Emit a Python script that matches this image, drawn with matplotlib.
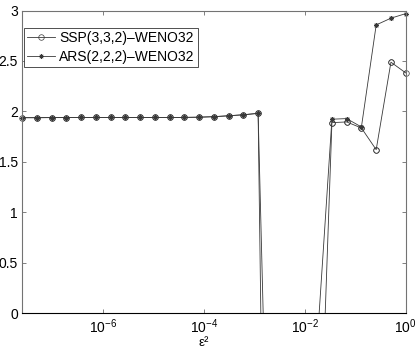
import matplotlib
matplotlib.use("Agg")
import matplotlib.pyplot as plt
from matplotlib.ticker import FixedLocator, NullLocator, FixedFormatter
from matplotlib.transforms import Bbox, TransformedBbox

plt.rcParams['font.family'] = ['Liberation Sans', 'DejaVu Sans']
plt.rcParams['mathtext.fontset'] = 'custom'
plt.rcParams['mathtext.rm'] = 'Liberation Sans'
plt.rcParams['mathtext.it'] = 'Liberation Sans:italic'
plt.rcParams['mathtext.bf'] = 'Liberation Sans:bold'

# epsilon^2 values (x axis)
eps2 = [2.439e-8, 4.786e-8, 9.393e-8, 1.843e-7, 3.617e-7, 7.099e-7, 1.393e-6,
        2.734e-6, 5.365e-6, 1.053e-5, 2.066e-5, 4.055e-5, 7.955e-5, 1.561e-4,
        3.064e-4, 6.013e-4, 1.180e-3, 2.316e-3, 4.545e-3, 8.920e-3, 1.750e-2,
        3.436e-2, 6.742e-2, 0.1323, 0.2597, 0.5095, 1.0]

ssp = [1.938, 1.938, 1.939, 1.939, 1.940, 1.941, 1.940, 1.940, 1.940, 1.940,
       1.940, 1.941, 1.943, 1.948, 1.957, 1.967, 1.981,
       -8.8, -7.5, -5.2, -2.27,
       1.889, 1.896, 1.836, 1.621, 2.488, 2.382]

ars = [1.938, 1.938, 1.939, 1.939, 1.940, 1.941, 1.940, 1.940, 1.940, 1.940,
       1.940, 1.941, 1.943, 1.948, 1.957, 1.967, 1.981,
       -3.8, -4.5, -3.6, -0.30,
       1.923, 1.929, 1.846, 2.857, 2.924, 2.969]

labels = ['SSP(3,3,2)–WENO32', 'ARS(2,2,2)–WENO32']
xticks = [1e-6, 1e-4, 1e-2, 1.0]
xticklabels = [r'$\mathdefault{10^{-6}}$', r'$\mathdefault{10^{-4}}$',
               r'$\mathdefault{10^{-2}}$', r'$\mathdefault{10^{0}}$']
yticks = [0, 0.5, 1, 1.5, 2, 2.5, 3]
yticklabels = ['0', '0.5', '1', '1.5', '2', '2.5', '3']

W, H = 419, 349
fig = plt.figure(figsize=(W / 100, H / 100), dpi=100)
ax = fig.add_axes([22 / W, 35.7 / H, 383.7 / W, 302.8 / H])

lc = '0.22'
asterisk = (8, 2, 0)
l1, = ax.plot(eps2, ssp, color=lc, lw=0.6, marker='o', ms=4.0, mfc='none',
              mec=lc, mew=0.5, label=labels[0])
l2, = ax.plot(eps2, ars, color=lc, lw=0.6, marker=asterisk, ms=3.4,
              mec=lc, mew=0.5, label=labels[1])

# markers again, not clipped at the axes edges (MATLAB style)
big = TransformedBbox(Bbox([[-0.03, -0.03], [1.03, 1.03]]), ax.transAxes)
m1, = ax.plot(eps2, ssp, ls='none', marker='o', ms=4.0, mfc='none', mec=lc, mew=0.5)
m2, = ax.plot(eps2, ars, ls='none', marker=asterisk, ms=3.4, mec=lc, mew=0.5)
m1.set_clip_box(big)
m2.set_clip_box(big)

ax.set_xscale('log')
ax.set_xlim(eps2[0], eps2[-1])
ax.set_ylim(0, 3)
ax.xaxis.set_major_locator(FixedLocator(xticks))
ax.xaxis.set_major_formatter(FixedFormatter(xticklabels))
ax.xaxis.set_minor_locator(NullLocator())
ax.set_yticks(yticks)
ax.set_yticklabels(yticklabels)

ax.tick_params(axis='both', which='both', direction='in', top=True, right=True,
               length=3, width=0.5, labelsize=10, color='0.3')
ax.tick_params(axis='x', pad=2.8)
ax.tick_params(axis='y', pad=3)
for s in ['left', 'top', 'right']:
    ax.spines[s].set_color('0.45')
    ax.spines[s].set_linewidth(0.8)
ax.spines['bottom'].set_color('k')
ax.spines['bottom'].set_linewidth(0.8)

fig.text(204 / W, 1 - 348.8 / H, 'ε²', ha='center', va='bottom', fontsize=9.5)

leg = ax.legend(handles=[l1, l2], labels=labels, loc='upper left',
                bbox_to_anchor=(0.0052, 0.941), borderaxespad=0,
                fontsize=10, frameon=True, fancybox=False, framealpha=1,
                edgecolor='0.2', handlelength=2.0, handletextpad=0.35,
                borderpad=0.2, labelspacing=0.35)
leg.get_frame().set_linewidth(0.6)

fig.savefig('out.png', dpi=100)
